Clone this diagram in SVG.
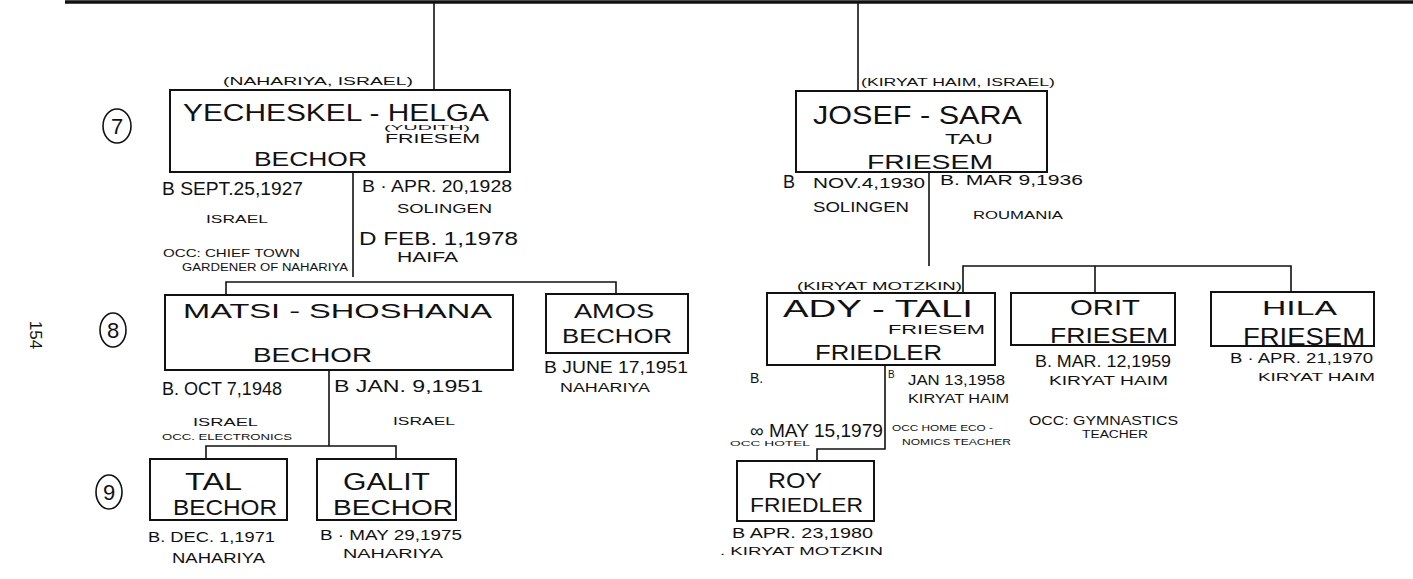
<svg xmlns="http://www.w3.org/2000/svg" width="1413" height="579" viewBox="0 0 1413 579">
<style>
.bg{fill:#fff}
.box{fill:none;stroke:#111;stroke-width:2}
.ln{fill:none;stroke:#111;stroke-width:1.6}
.t{font-family:"Liberation Sans","DejaVu Sans",sans-serif;fill:#111}
.gen{fill:none;stroke:#111;stroke-width:1.6}
</style>
<rect class="bg" x="0" y="0" width="1413" height="579"/>

<g id="connectors">
  <line x1="65" y1="2" x2="1413" y2="2" stroke="#111" stroke-width="3.5"/>
  <polyline class="ln" points="434,2 434,90"/>
  <polyline class="ln" points="858,2 858,91"/>
  <polyline class="ln" points="353,172 353,277"/>
  <polyline class="ln" points="226,295 226,282 616,282 616,294"/>
  <polyline class="ln" points="329,370 329,446"/>
  <polyline class="ln" points="206,459 206,446 396,446 396,459"/>
  <polyline class="ln" points="929,172 929,266"/>
  <polyline class="ln" points="963,293 963,266 1291,266 1291,292"/>
  <polyline class="ln" points="1095,266 1095,293"/>
  <polyline class="ln" points="885,365 885,449 817,449 817,461"/>
</g>

<g id="page-number">
  <text class="t" font-size="17" transform="translate(30,335) rotate(90)" text-anchor="middle">154</text>
</g>

<g id="gen7">
  <ellipse class="gen" cx="117" cy="126" rx="14" ry="17"/>
  <text class="t" x="117" y="134" font-size="22" text-anchor="middle">7</text>
</g>
<g id="gen8">
  <ellipse class="gen" cx="113" cy="330" rx="13" ry="17"/>
  <text class="t" x="113" y="338" font-size="22" text-anchor="middle">8</text>
</g>
<g id="gen9">
  <ellipse class="gen" cx="109" cy="492" rx="13" ry="17"/>
  <text class="t" x="109" y="500" font-size="22" text-anchor="middle">9</text>
</g>

<g id="yecheskel-helga">
  <text class="t" x="223" y="85" font-size="11" textLength="190" lengthAdjust="spacingAndGlyphs">(NAHARIYA, ISRAEL)</text>
  <rect class="box" x="170" y="90" width="340" height="82"/>
  <text class="t" x="183" y="121" font-size="24" textLength="306" lengthAdjust="spacingAndGlyphs">YECHESKEL - HELGA</text>
  <text class="t" x="384" y="130" font-size="8" textLength="86" lengthAdjust="spacingAndGlyphs">(YUDITH)</text>
  <text class="t" x="385" y="143" font-size="13" textLength="95" lengthAdjust="spacingAndGlyphs">FRIESEM</text>
  <text class="t" x="254" y="166" font-size="21" textLength="113" lengthAdjust="spacingAndGlyphs">BECHOR</text>
  <text class="t" x="162" y="195" font-size="18" textLength="141" lengthAdjust="spacingAndGlyphs">B SEPT.25,1927</text>
  <text class="t" x="206" y="223" font-size="11" textLength="62" lengthAdjust="spacingAndGlyphs">ISRAEL</text>
  <text class="t" x="163" y="257" font-size="11" textLength="137" lengthAdjust="spacingAndGlyphs">OCC: CHIEF TOWN</text>
  <text class="t" x="182" y="271" font-size="10" textLength="166" lengthAdjust="spacingAndGlyphs">GARDENER OF NAHARIYA</text>
  <text class="t" x="362" y="192" font-size="17" textLength="150" lengthAdjust="spacingAndGlyphs">B · APR. 20,1928</text>
  <text class="t" x="397" y="213" font-size="13" textLength="95" lengthAdjust="spacingAndGlyphs">SOLINGEN</text>
  <text class="t" x="359" y="245" font-size="19" textLength="159" lengthAdjust="spacingAndGlyphs">D FEB. 1,1978</text>
  <text class="t" x="397" y="262" font-size="14" textLength="61" lengthAdjust="spacingAndGlyphs">HAIFA</text>
</g>

<g id="josef-sara">
  <text class="t" x="861" y="86" font-size="11" textLength="194" lengthAdjust="spacingAndGlyphs">(KIRYAT HAIM, ISRAEL)</text>
  <rect class="box" x="796" y="91" width="251" height="81"/>
  <text class="t" x="813" y="124" font-size="25" textLength="209" lengthAdjust="spacingAndGlyphs">JOSEF - SARA</text>
  <text class="t" x="945" y="144" font-size="15" textLength="48" lengthAdjust="spacingAndGlyphs">TAU</text>
  <text class="t" x="867" y="169" font-size="21" textLength="126" lengthAdjust="spacingAndGlyphs">FRIESEM</text>
  <text class="t" x="783" y="188" font-size="18">B</text>
  <text class="t" x="813" y="188" font-size="14" textLength="112" lengthAdjust="spacingAndGlyphs">NOV.4,1930</text>
  <text class="t" x="813" y="212" font-size="14" textLength="96" lengthAdjust="spacingAndGlyphs">SOLINGEN</text>
  <text class="t" x="940" y="185" font-size="14" textLength="143" lengthAdjust="spacingAndGlyphs">B. MAR 9,1936</text>
  <text class="t" x="973" y="219" font-size="10" textLength="90" lengthAdjust="spacingAndGlyphs">ROUMANIA</text>
</g>

<g id="matsi-shoshana">
  <rect class="box" x="165" y="295" width="348" height="75"/>
  <text class="t" x="183" y="318" font-size="21" textLength="309" lengthAdjust="spacingAndGlyphs">MATSI  - SHOSHANA</text>
  <text class="t" x="253" y="362" font-size="21" textLength="119" lengthAdjust="spacingAndGlyphs">BECHOR</text>
  <text class="t" x="162" y="395" font-size="18" textLength="120" lengthAdjust="spacingAndGlyphs">B. OCT 7,1948</text>
  <text class="t" x="193" y="426" font-size="11" textLength="65" lengthAdjust="spacingAndGlyphs">ISRAEL</text>
  <text class="t" x="162" y="440" font-size="9" textLength="130" lengthAdjust="spacingAndGlyphs">OCC. ELECTRONICS</text>
  <text class="t" x="334" y="392" font-size="17" textLength="149" lengthAdjust="spacingAndGlyphs">B  JAN. 9,1951</text>
  <text class="t" x="393" y="425" font-size="11" textLength="62" lengthAdjust="spacingAndGlyphs">ISRAEL</text>
</g>

<g id="amos">
  <rect class="box" x="546" y="294" width="142" height="59"/>
  <text class="t" x="574" y="318" font-size="21" textLength="80" lengthAdjust="spacingAndGlyphs">AMOS</text>
  <text class="t" x="562" y="343" font-size="20" textLength="110" lengthAdjust="spacingAndGlyphs">BECHOR</text>
  <text class="t" x="544" y="373" font-size="16" textLength="144" lengthAdjust="spacingAndGlyphs">B JUNE 17,1951</text>
  <text class="t" x="560" y="392" font-size="12" textLength="90" lengthAdjust="spacingAndGlyphs">NAHARIYA</text>
</g>

<g id="ady-tali">
  <text class="t" x="797" y="290" font-size="11" textLength="165" lengthAdjust="spacingAndGlyphs">(KIRYAT MOTZKIN)</text>
  <rect class="box" x="767" y="293" width="228" height="72"/>
  <text class="t" x="783" y="317" font-size="23" textLength="190" lengthAdjust="spacingAndGlyphs">ADY  -  TALI</text>
  <text class="t" x="888" y="334" font-size="13" textLength="97" lengthAdjust="spacingAndGlyphs">FRIESEM</text>
  <text class="t" x="815" y="360" font-size="22" textLength="127" lengthAdjust="spacingAndGlyphs">FRIEDLER</text>
  <text class="t" x="750" y="383" font-size="14">B.</text>
  <text class="t" x="888" y="378" font-size="10">B</text>
  <text class="t" x="908" y="385" font-size="15" textLength="97" lengthAdjust="spacingAndGlyphs">JAN 13,1958</text>
  <text class="t" x="908" y="403" font-size="12" textLength="101" lengthAdjust="spacingAndGlyphs">KIRYAT HAIM</text>
  <text class="t" x="750" y="437" font-size="18" textLength="133" lengthAdjust="spacingAndGlyphs">∞ MAY 15,1979</text>
  <text class="t" x="730" y="446" font-size="8" textLength="80" lengthAdjust="spacingAndGlyphs">OCC  HOTEL</text>
  <text class="t" x="892" y="431" font-size="9" textLength="101" lengthAdjust="spacingAndGlyphs">OCC  HOME ECO -</text>
  <text class="t" x="902" y="445" font-size="9" textLength="109" lengthAdjust="spacingAndGlyphs">NOMICS TEACHER</text>
</g>

<g id="orit">
  <rect class="box" x="1011" y="293" width="164" height="52"/>
  <text class="t" x="1070" y="315" font-size="22" textLength="70" lengthAdjust="spacingAndGlyphs">ORIT</text>
  <text class="t" x="1050" y="343" font-size="22" textLength="118" lengthAdjust="spacingAndGlyphs">FRIESEM</text>
  <text class="t" x="1035" y="367" font-size="16" textLength="136" lengthAdjust="spacingAndGlyphs">B. MAR. 12,1959</text>
  <text class="t" x="1049" y="385" font-size="12" textLength="119" lengthAdjust="spacingAndGlyphs">KIRYAT HAIM</text>
  <text class="t" x="1029" y="425" font-size="12" textLength="149" lengthAdjust="spacingAndGlyphs">OCC: GYMNASTICS</text>
  <text class="t" x="1082" y="438" font-size="10" textLength="66" lengthAdjust="spacingAndGlyphs">TEACHER</text>
</g>

<g id="hila">
  <rect class="box" x="1211" y="292" width="163" height="54"/>
  <text class="t" x="1262" y="315" font-size="21" textLength="75" lengthAdjust="spacingAndGlyphs">HILA</text>
  <text class="t" x="1243" y="345" font-size="23" textLength="122" lengthAdjust="spacingAndGlyphs">FRIESEM</text>
  <text class="t" x="1230" y="363" font-size="15" textLength="143" lengthAdjust="spacingAndGlyphs">B · APR. 21,1970</text>
  <text class="t" x="1258" y="381" font-size="11" textLength="117" lengthAdjust="spacingAndGlyphs">KIRYAT HAIM</text>
</g>

<g id="tal">
  <rect class="box" x="150" y="459" width="137" height="61"/>
  <text class="t" x="185" y="490" font-size="23" textLength="57" lengthAdjust="spacingAndGlyphs">TAL</text>
  <text class="t" x="173" y="515" font-size="22" textLength="104" lengthAdjust="spacingAndGlyphs">BECHOR</text>
  <text class="t" x="148" y="542" font-size="15" textLength="127" lengthAdjust="spacingAndGlyphs">B. DEC. 1,1971</text>
  <text class="t" x="172" y="563" font-size="14" textLength="93" lengthAdjust="spacingAndGlyphs">NAHARIYA</text>
</g>

<g id="galit">
  <rect class="box" x="317" y="459" width="139" height="61"/>
  <text class="t" x="343" y="490" font-size="23" textLength="87" lengthAdjust="spacingAndGlyphs">GALIT</text>
  <text class="t" x="333" y="515" font-size="22" textLength="120" lengthAdjust="spacingAndGlyphs">BECHOR</text>
  <text class="t" x="320" y="540" font-size="15" textLength="142" lengthAdjust="spacingAndGlyphs">B · MAY 29,1975</text>
  <text class="t" x="343" y="558" font-size="13" textLength="100" lengthAdjust="spacingAndGlyphs">NAHARIYA</text>
</g>

<g id="roy">
  <rect class="box" x="737" y="461" width="137" height="60"/>
  <text class="t" x="768" y="488" font-size="22" textLength="54" lengthAdjust="spacingAndGlyphs">ROY</text>
  <text class="t" x="750" y="512" font-size="21" textLength="113" lengthAdjust="spacingAndGlyphs">FRIEDLER</text>
  <text class="t" x="732" y="538" font-size="15" textLength="141" lengthAdjust="spacingAndGlyphs">B APR. 23,1980</text>
  <text class="t" x="720" y="555" font-size="11" textLength="163" lengthAdjust="spacingAndGlyphs">.  KIRYAT MOTZKIN</text>
</g>
</svg>
